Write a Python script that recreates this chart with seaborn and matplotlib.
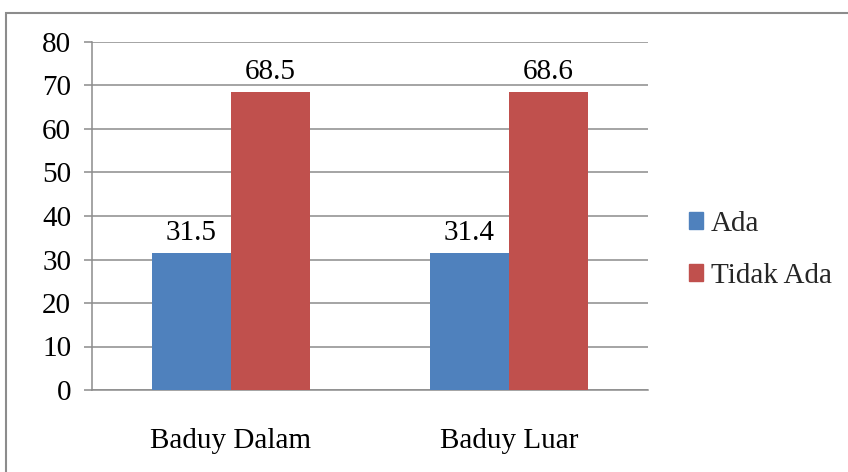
import matplotlib
matplotlib.use("Agg")
import matplotlib.pyplot as plt
import matplotlib.patches as mpatches
import seaborn as sns
import pandas as pd

categories = ["Baduy Dalam", "Baduy Luar"]
series_names = ["Ada", "Tidak Ada"]
ada_values = [31.5, 31.4]
tidak_ada_values = [68.5, 68.6]
y_ticks = [0, 10, 20, 30, 40, 50, 60, 70, 80]

colors = ["#4F81BD", "#C0504D"]
grid_color = "#8C8C8C"
FS = 21

df = pd.DataFrame({
    "kelompok": categories * 2,
    "status": [series_names[0]] * 2 + [series_names[1]] * 2,
    "persen": ada_values + tidak_ada_values,
})

sns.set_theme(style="white")
plt.rcParams["font.family"] = ["Liberation Serif", "DejaVu Serif"]

fig = plt.figure(figsize=(8.48, 4.72), dpi=100)
ax = fig.add_axes([92 / 848, 1 - 390 / 472, (648 - 92) / 848, (390 - 42) / 472])

sns.barplot(data=df, x="kelompok", y="persen", hue="status",
            order=categories, hue_order=series_names,
            palette=colors, width=0.57, saturation=1.0,
            edgecolor="none", linewidth=0, ax=ax, legend=False, zorder=3)

ax.set_xlim(-0.5, 1.5)
ax.set_ylim(0, 80)
ax.set_yticks(y_ticks)
ax.set_yticklabels([str(t) for t in y_ticks], fontsize=FS, color="#000000")
ax.yaxis.grid(True, color=grid_color, linewidth=1.1, zorder=0)
ax.set_axisbelow(True)

# category boundaries marked by minor ticks, labels on major ticks
ax.set_xticks([0, 1])
ax.set_xticklabels(categories, fontsize=FS, color="#000000")
ax.set_xticks([-0.5, 0.5, 1.5], minor=True)
ax.tick_params(axis="x", which="major", length=0, pad=27)
ax.tick_params(axis="x", which="minor", length=7, width=1.1, color=grid_color, direction="out")
ax.tick_params(axis="y", which="major", length=6, width=1.1, color=grid_color, direction="out", pad=9, left=True)
ax.set_xlabel("")
ax.set_ylabel("")

for side in ["top", "right"]:
    ax.spines[side].set_visible(False)
for side in ["left", "bottom"]:
    ax.spines[side].set_color(grid_color)
    ax.spines[side].set_linewidth(1.1)

for container in ax.containers:
    ax.bar_label(container, labels=[f"{v:.1f}" for v in container.datavalues],
                 fontsize=FS, padding=5, color="#000000")

handles = [mpatches.Patch(color=c, label=n) for c, n in zip(colors, series_names)]
fig.legend(handles=handles, loc="center left", bbox_to_anchor=(680 / 848, 1 - 250 / 472),
           frameon=False, fontsize=FS, handlelength=0.5, handleheight=0.5,
           handletextpad=0.25, labelspacing=0.9, borderaxespad=0, borderpad=0.3)

# outer chart frame
fig.add_artist(mpatches.Rectangle((6 / 848, -0.05), 1.1, 1 - 13 / 472 + 0.05,
                                  transform=fig.transFigure, fill=False,
                                  edgecolor="#8C8C8C", linewidth=1.5))

fig.savefig("out.png", dpi=100)
